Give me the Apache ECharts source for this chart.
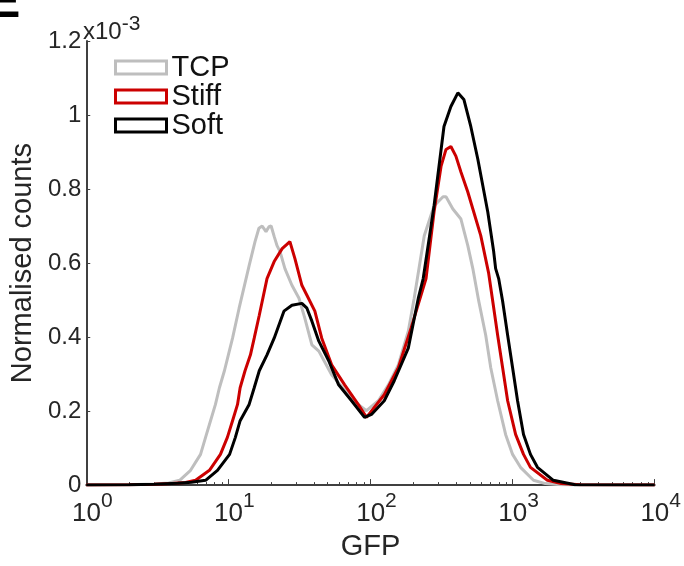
<!DOCTYPE html>
<html>
<head>
<meta charset="utf-8">
<script src="https://cdn.jsdelivr.net/npm/echarts@6/dist/echarts.min.js"></script>
<style>
html,body{margin:0;padding:0;background:#fff;}
#chart{width:684px;height:566px;}
</style>
</head>
<body>
<div id="chart"></div>
<script>
// ---- data (y in units of 1e-3) ----
var seriesNames = ['TCP', 'Stiff', 'Soft'];
var seriesColors = ['#bebebe', '#cc0000', '#000000'];

var tcpX = [1, 2, 3, 3.8, 4.54, 5.42, 6.37, 6.91, 7.49, 8.11, 8.65, 9.38, 10.0, 10.7, 11.9, 14.0, 15.4, 16.4, 17.3, 18.4, 19.3, 20.0, 21.0, 22.0, 23.1, 25.0, 28.0, 31.4, 34.5, 38.7, 43.3, 53.3, 70.2, 82.4, 93.7, 113.7, 133.6, 157, 184.5, 203, 239, 280, 324, 340, 380, 433, 484, 525, 578, 647, 702, 785, 893, 1000, 1137, 1403, 1700, 2200, 3000, 10000];
var tcpY = [0, 0.001, 0.003, 0.006, 0.013, 0.040, 0.083, 0.129, 0.174, 0.218, 0.263, 0.309, 0.352, 0.397, 0.478, 0.593, 0.658, 0.694, 0.700, 0.685, 0.698, 0.700, 0.672, 0.647, 0.631, 0.585, 0.540, 0.505, 0.451, 0.379, 0.362, 0.298, 0.244, 0.217, 0.201, 0.228, 0.271, 0.325, 0.416, 0.505, 0.674, 0.754, 0.779, 0.779, 0.746, 0.719, 0.647, 0.585, 0.497, 0.405, 0.317, 0.228, 0.137, 0.083, 0.048, 0.013, 0.004, 0.001, 0, 0];

var stiffX = [1, 2, 3, 4, 5, 5.88, 7.36, 8.79, 9.84, 10.7, 11.6, 12.1, 13.1, 14.3, 15.2, 16.5, 18.7, 21.0, 23.9, 27.1, 29.4, 32.9, 35.7, 40.6, 45.4, 53.3, 65.8, 82.4, 93.7, 125, 157, 193, 246, 280, 314, 340, 368, 399, 433, 484, 533, 597, 679, 725, 785, 851, 923, 1050, 1194, 1336, 1757, 2200, 3000, 10000];
var stiffY = [0, 0.001, 0.002, 0.004, 0.007, 0.013, 0.040, 0.083, 0.129, 0.174, 0.218, 0.263, 0.309, 0.352, 0.397, 0.459, 0.558, 0.604, 0.639, 0.658, 0.612, 0.540, 0.513, 0.470, 0.397, 0.325, 0.271, 0.217, 0.183, 0.244, 0.317, 0.424, 0.558, 0.738, 0.862, 0.907, 0.915, 0.889, 0.846, 0.792, 0.738, 0.674, 0.572, 0.497, 0.405, 0.317, 0.228, 0.137, 0.083, 0.048, 0.013, 0.004, 0.001, 0];

var softX = [1, 2, 3, 4.4, 5.5, 6.91, 8.38, 10.2, 11.2, 12.1, 14.0, 15.2, 16.5, 18.7, 21.0, 24.6, 28.0, 32.9, 35.7, 38.7, 43.3, 50.8, 59.7, 73.6, 90.8, 101.6, 125, 147, 184.5, 217, 235, 280, 329, 368, 412, 454, 508, 569, 669, 736, 760, 798, 851, 923, 1000, 1084, 1194, 1336, 1496, 1936, 2755, 10000];
var softY = [0, 0.001, 0.002, 0.005, 0.008, 0.013, 0.040, 0.083, 0.129, 0.174, 0.218, 0.263, 0.309, 0.352, 0.397, 0.470, 0.486, 0.491, 0.478, 0.443, 0.389, 0.336, 0.271, 0.228, 0.183, 0.191, 0.228, 0.282, 0.370, 0.505, 0.558, 0.754, 0.969, 1.023, 1.060, 1.042, 0.969, 0.881, 0.738, 0.631, 0.585, 0.558, 0.497, 0.405, 0.317, 0.228, 0.137, 0.083, 0.048, 0.013, 0.001, 0];

var xMajorTicks = [1, 10, 100, 1000, 10000];
var xMinorTicks = [2,3,4,5,6,7,8,9,20,30,40,50,60,70,80,90,200,300,400,500,600,700,800,900,2000,3000,4000,5000,6000,7000,8000,9000];

function pairs(xs, ys) {
  var out = [];
  for (var i = 0; i < xs.length; i++) out.push([xs[i], ys[i]]);
  return out;
}

var FONT = 'Liberation Sans, Arial, sans-serif';
var TXT = '#262626';
var AX = '#404040';

var chart = echarts.init(document.getElementById('chart'));
var allX = [tcpX, stiffX, softX];
var allY = [tcpY, stiffY, softY];

var series = seriesNames.map(function (n, i) {
  return {
    name: n,
    type: 'line',
    xAxisIndex: 0,
    yAxisIndex: 0,
    data: pairs(allX[i], allY[i]),
    showSymbol: false,
    symbol: 'none',
    lineStyle: { color: seriesColors[i], width: 3 },
    itemStyle: { color: seriesColors[i] },
    animation: false,
    z: 2 + i
  };
});

chart.setOption({
  animation: false,
  backgroundColor: '#fff',
  textStyle: { fontFamily: FONT },
  grid: { left: 83, right: 29, top: 41, bottom: 78, containLabel: false },
  legend: {
    left: 114, top: 53, orient: 'vertical', padding: 0,
    itemWidth: 51, itemHeight: 13, itemGap: 0,
    icon: 'rect',
    textStyle: { fontSize: 29, color: '#111', fontFamily: FONT, lineHeight: 29 },
    data: seriesNames.map(function (n, i) {
      return { name: n, icon: 'rect', itemStyle: { color: '#ffffff', borderColor: seriesColors[i], borderWidth: 3 } };
    })
  },
  xAxis: [{
    type: 'log', logBase: 10, min: 1, max: 10000,
    name: 'GFP', nameLocation: 'middle', nameGap: 44,
    nameTextStyle: { fontSize: 29, color: TXT, fontFamily: FONT },
    axisLine: { show: true, lineStyle: { color: AX, width: 2 } },
    axisTick: { show: true, inside: true, length: 6, lineStyle: { color: AX, width: 1 }, customValues: xMajorTicks },
    axisLabel: {
      show: true, margin: 6, customValues: xMajorTicks,
      padding: [0, 0, 0, 12],
      formatter: function (v) {
        var e = Math.round(Math.log(v) / Math.LN10);
        return '{b|10}{s|' + e + '}';
      },
      rich: {
        b: { fontSize: 26, color: TXT, fontFamily: FONT, lineHeight: 36, verticalAlign: 'bottom' },
        s: { fontSize: 21, color: TXT, fontFamily: FONT, lineHeight: 20, verticalAlign: 'top' }
      }
    },
    splitLine: { show: false }
  }, {
    type: 'log', logBase: 10, min: 1, max: 10000, gridIndex: 0, position: 'bottom',
    axisLine: { show: false },
    axisTick: { show: true, inside: true, length: 3, lineStyle: { color: AX, width: 1 }, customValues: xMinorTicks },
    axisLabel: { show: false },
    splitLine: { show: false }
  }],
  yAxis: {
    type: 'value', min: 0, max: 1.2, interval: 0.2,
    name: 'Normalised counts', nameLocation: 'middle', nameGap: 42,
    nameTextStyle: { fontSize: 29, color: TXT, fontFamily: FONT },
    axisLine: { show: true, lineStyle: { color: AX, width: 2 } },
    axisTick: { show: true, inside: true, length: 4, lineStyle: { color: AX, width: 1 } },
    axisLabel: {
      margin: 5, fontSize: 24, color: TXT, fontFamily: FONT,
      formatter: function (v) { return String(Math.round(v * 10) / 10); }
    },
    splitLine: { show: false }
  },
  graphic: [{
    type: 'text', left: 83, top: 14,
    style: {
      text: '{a|x10}{b|-3}',
      rich: {
        a: { fontSize: 24, fill: TXT, fontFamily: FONT, lineHeight: 30, verticalAlign: 'bottom' },
        b: { fontSize: 21, fill: TXT, fontFamily: FONT, lineHeight: 20, verticalAlign: 'top' }
      }
    }
  }, {
    type: 'text', x: -13, y: 28,
    style: { text: 'E', fontSize: 50, fontWeight: 'bold', fill: '#000', fontFamily: FONT, verticalAlign: 'bottom' }
  }],
  series: series
});
</script>
</body>
</html>
